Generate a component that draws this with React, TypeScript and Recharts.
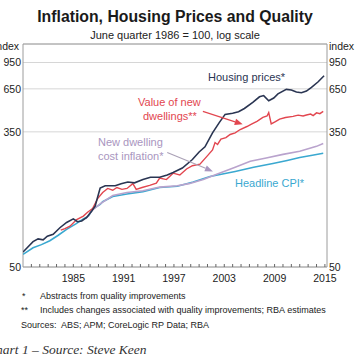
import React from 'react';
import {
  LineChart,
  Line,
  XAxis,
  YAxis,
  CartesianGrid,
  ReferenceArea,
  ReferenceLine,
} from 'recharts';

// values (index, June quarter 1986 = 100)
const housingYears = [
  1979.0, 1980.2, 1980.8, 1981.4, 1981.9, 1982.6, 1983.4, 1984.2, 1985.0, 1985.5,
  1986.0, 1986.6, 1987.2, 1987.6, 1988.2, 1988.8, 1990.0, 1990.7, 1991.5, 1992.3,
  1993.3, 1994.2, 1995.3, 1996.2, 1996.9, 1998.0, 1999.2, 2000.0, 2000.7, 2001.6,
  2002.4, 2003.1, 2004.0, 2004.7, 2005.4, 2006.4, 2007.2, 2007.7, 2008.3, 2008.9,
  2009.4, 2010.4, 2011.0, 2011.6, 2012.2, 2012.8, 2013.4, 2014.2, 2014.9,
];
const housingValues = [
  62, 72, 75, 74, 78, 80, 88, 95, 100, 96,
  97, 102, 112, 120, 156, 161, 161, 166, 170, 168,
  176, 182, 182, 188, 195, 208, 235, 262, 282, 345,
  400, 450, 458, 468, 490, 535, 580, 590, 548, 570,
  605, 645, 640, 622, 615, 630, 665, 720, 785,
];

const newDwellingYears = [
  1983.5, 1984.0, 1984.6, 1985.4, 1986.2, 1986.7, 1987.3, 1987.9, 1988.5, 1989.1,
  1989.7, 1990.2, 1990.8, 1991.4, 1992.1, 1992.5, 1993.2, 1994.1, 1994.9, 1995.3,
  1996.1, 1996.9, 1997.7, 1998.5, 1999.2, 2000.1, 2000.9, 2001.6, 2001.9, 2002.2,
  2002.6, 2003.2, 2003.7, 2004.3, 2004.9, 2005.7, 2006.3, 2006.9, 2007.6, 2008.1,
  2008.3, 2008.6, 2009.1, 2009.6, 2010.3, 2011.2, 2011.8, 2012.4, 2012.8, 2013.3,
  2013.6, 2014.0, 2014.4, 2014.8,
];
const newDwellingValues = [
  85, 87, 90, 99, 104, 110, 116, 134, 146, 155,
  151, 157, 153, 155, 166, 153, 157, 162, 167, 180,
  176, 193, 188, 205, 215, 220, 245, 270, 300, 292,
  315, 322, 337, 345, 362, 378, 392, 407, 431, 440,
  462, 392, 405, 420, 430, 437, 445, 440, 446, 452,
  442, 460, 455, 470,
];

const costYears = [
  1986.5, 1987.3, 1988.2, 1989.7, 1991.4, 1993.3, 1995.3, 1997.4, 1998.8, 2000.5,
  2002.1, 2004.3, 2006.1, 2008.0, 2010.0, 2012.0, 2014.0, 2014.8,
];
const costValues = [
  100, 114, 124, 140, 146, 150, 158, 161, 166, 176,
  190, 210, 229, 240, 253, 265, 284, 296,
];

const cpiYears = [
  1979.0, 1980.2, 1981.2, 1982.2, 1983.2, 1984.2, 1985.3, 1986.2, 1986.8, 1987.3,
  1988.2, 1988.5, 1989.7, 1991.4, 1993.3, 1995.3, 1997.4, 1999.3, 2001.3, 2004.3,
  2006.5, 2008.8, 2010.5, 2012.0, 2013.5, 2014.8,
];
const cpiValues = [
  60, 66, 69, 73, 79, 86, 93, 100, 104, 115,
  123, 128, 138, 143, 148, 157, 160, 170, 184, 198,
  210, 222, 232, 242, 250, 257,
];

const yearLabels = [1985, 1991, 1997, 2003, 2009, 2015];
const yearTicks = Array.from({ length: 36 }, (_, i) => 1980 + i);
const yTicks = [50, 350, 650, 950];

const toRows = (years: number[], values: number[]) =>
  years.map((year, i) => ({ year, v: values[i] }));

const housing = toRows(housingYears, housingValues);
const newDwelling = toRows(newDwellingYears, newDwellingValues);
const cost = toRows(costYears, costValues);
const cpi = toRows(cpiYears, cpiValues);

const FONT = 'Arial, "Liberation Sans", sans-serif';

function YearTick({ x, y, payload }: any) {
  const show = yearLabels.includes(payload.value);
  return (
    <g>
      <line x1={x} x2={x} y1={y} y2={y - 3} stroke="#666" />
      {show && (
        <text x={x} y={y + 15} textAnchor="middle" fontSize={10.5} fill="#222" fontFamily={FONT}>
          {payload.value}
        </text>
      )}
    </g>
  );
}

// arrow drawn between the two segment points
const arrowShape = (color: string, lineColor: string) => (p: any) => {
  const { x1, y1, x2, y2 } = p;
  if ([x1, y1, x2, y2].some((n) => typeof n !== 'number' || isNaN(n))) return <g />;
  const a = Math.atan2(y2 - y1, x2 - x1);
  const len = 8;
  const w = 3.2;
  const bx = x2 - len * Math.cos(a);
  const by = y2 - len * Math.sin(a);
  const px = -Math.sin(a) * w;
  const py = Math.cos(a) * w;
  return (
    <g>
      <line x1={x1} y1={y1} x2={bx} y2={by} stroke={lineColor} strokeWidth={1.1} />
      <polygon points={`${x2},${y2} ${bx + px},${by + py} ${bx - px},${by - py}`} fill={color} />
    </g>
  );
};

const label = (
  text: string,
  left: number,
  top: number,
  color: string,
  size = 11,
  extra: React.CSSProperties = {}
) => (
  <div
    style={{
      position: 'absolute',
      left,
      top,
      color,
      fontSize: size,
      fontFamily: FONT,
      whiteSpace: 'pre',
      lineHeight: 1,
      ...extra,
    }}
  >
    {text}
  </div>
);

export default function App() {
  return (
    <div
      style={{
        position: 'absolute',
        left: 0,
        top: 0,
        width: 356,
        height: 364,
        background: '#fff',
        overflow: 'hidden',
      }}
    >
      <div
        style={{
          position: 'absolute',
          left: 0,
          width: 350,
          top: 8,
          textAlign: 'center',
          fontFamily: FONT,
          fontWeight: 'bold',
          fontSize: 15.8,
          color: '#1a1a1a',
        }}
      >
        Inflation, Housing Prices and Quality
      </div>
      <div
        style={{
          position: 'absolute',
          left: 0,
          width: 350,
          top: 29,
          textAlign: 'center',
          fontFamily: FONT,
          fontSize: 11,
          color: '#222',
        }}
      >
        June quarter 1986 = 100, log scale
      </div>

      <div style={{ position: 'absolute', left: 0, top: 0 }}>
        <LineChart width={356} height={290} margin={{ top: 44, right: 0, bottom: 0, left: 0 }}>
          <CartesianGrid yAxisId="left" vertical={false} stroke="#d6d6d6" />
          <XAxis
            dataKey="year"
            type="number"
            domain={[1979, 2015.25]}
            ticks={yearTicks}
            interval={0}
            allowDataOverflow
            axisLine={false}
            tickLine={false}
            tickSize={0}
            tickMargin={0}
            height={23}
            tick={<YearTick />}
          />
          <YAxis
            yAxisId="left"
            scale="log"
            domain={[50, 1240]}
            allowDataOverflow
            ticks={yTicks}
            interval={0}
            width={23}
            axisLine={false}
            tickLine={false}
            tickSize={0}
            tickMargin={2}
            tick={{ fontSize: 10.5, fill: '#222', fontFamily: FONT }}
          />
          <YAxis
            yAxisId="right"
            orientation="right"
            scale="log"
            domain={[50, 1240]}
            allowDataOverflow
            ticks={yTicks}
            interval={0}
            width={29}
            axisLine={false}
            tickLine={false}
            tickSize={0}
            tickMargin={2}
            tick={{ fontSize: 10.5, fill: '#222', fontFamily: FONT, textAnchor: 'start' }}
          />
          <ReferenceArea
            yAxisId="left"
            x1={1979}
            x2={2015.25}
            y1={50}
            y2={1240}
            fill="none"
            fillOpacity={0}
            stroke="#9c9c9c"
            strokeWidth={1}
          />
          <Line
            yAxisId="left"
            data={cpi}
            dataKey="v"
            stroke="#3aa8d0"
            strokeWidth={1.6}
            dot={false}
            isAnimationActive={false}
          />
          <Line
            yAxisId="left"
            data={cost}
            dataKey="v"
            stroke="#b9a3cd"
            strokeWidth={1.6}
            dot={false}
            isAnimationActive={false}
          />
          <Line
            yAxisId="left"
            data={newDwelling}
            dataKey="v"
            stroke="#e2464f"
            strokeWidth={1.4}
            dot={false}
            isAnimationActive={false}
          />
          <Line
            yAxisId="left"
            data={housing}
            dataKey="v"
            stroke="#2a3552"
            strokeWidth={1.6}
            dot={false}
            isAnimationActive={false}
          />
          <ReferenceLine
            yAxisId="left"
            segment={[
              { x: 2000.45, y: 470 },
              { x: 2005.2, y: 390 },
            ]}
            ifOverflow="visible"
            shape={arrowShape('#e2464f', '#e2464f')}
          />
          <ReferenceLine
            yAxisId="left"
            segment={[
              { x: 1996.2, y: 260 },
              { x: 2001.65, y: 198 },
            ]}
            ifOverflow="visible"
            shape={arrowShape('#a996c0', '#aaa1b6')}
          />
        </LineChart>
      </div>

      {label('index', -6, 41, '#222', 10.5)}
      {label('index', 329, 41, '#222', 10.5)}

      {label('Housing prices*', 208, 72, '#2a3552', 11)}
      {label('Value of new', 138, 97, '#e2464f', 11)}
      {label('dwellings**', 143, 111, '#e2464f', 11)}
      {label('New dwelling', 98, 137, '#a996c0', 11)}
      {label('cost inflation*', 98, 151, '#a996c0', 11)}
      {label('Headline CPI*', 235, 178, '#3aa8d0', 11)}

      {label('*', 22, 292, '#222', 9)}
      {label('Abstracts from quality improvements', 40, 292, '#222', 9)}
      {label('**', 21, 306, '#222', 9)}
      {label('Includes changes associated with quality improvements; RBA estimates', 40, 306, '#222', 9)}
      {label('Sources:  ABS; APM; CoreLogic RP Data; RBA', 21, 321, '#222', 9)}
      {label('Chart 1 \u2013 Source: Steve Keen', -13, 343, '#333', 13.5, {
        fontFamily: '"Liberation Serif", "DejaVu Serif", serif',
        fontStyle: 'italic',
      })}
    </div>
  );
}
